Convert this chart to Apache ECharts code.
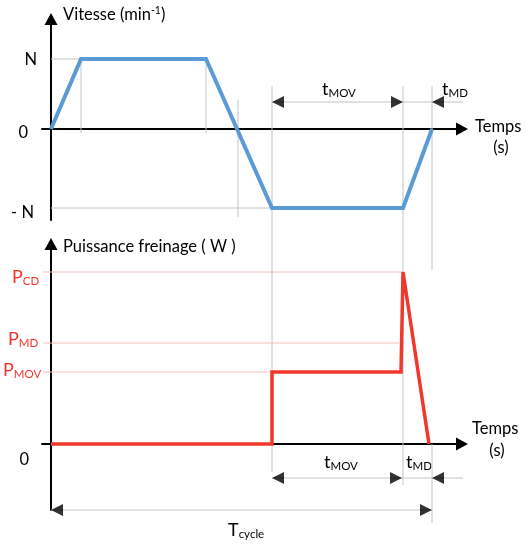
<!DOCTYPE html>
<html><head><meta charset="utf-8">
<script src="https://cdn.jsdelivr.net/npm/echarts@6/dist/echarts.min.js"></script>
<style>html,body{margin:0;padding:0;background:#fff}#c{width:525px;height:545px}</style>
</head><body><div id="c"></div>
<script>
// ---- data (time in schematic units, levels in schematic units) ----
const speedT = [0, 30, 155, 186, 221, 352, 381];
const speedV = [0, 70, 70, 0, -79, -79, 0];
const powerT = [0, 221, 221, 350, 352, 378];
const powerV = [0, 0, 72, 72, 172, 0];
// guide segments, top chart (grid 0)
const topGuides = [
  [[0, 70], [30, 70]], [[0, -79], [221, -79]],
  [[30, 70], [30, -4]], [[155, 70], [155, -4]], [[187, 29], [187, -88]],
  [[221, 43], [221, -343]], [[352, 43], [352, -356]], [[381, 43], [381, -141]],
  [[221, 27], [419, 27]]
];
// guide segments, bottom chart (grid 1)
const botGuides = [
  [[381, 0], [381, -79]], [[221, -34], [419, -34]], [[0, -66], [381, -66]]
];
const powerGuides = [
  [[-8, 172], [352, 172]], [[-8, 101], [348, 101]], [[-8, 72], [221, 72]]
];
// arrow heads: [x, y, direction]
const topArrows = [[221, 27, 'L'], [352, 27, 'R'], [381, 27, 'L']];
const botArrows = [[221, -34, 'L'], [351, -34, 'R'], [381, -34, 'L'], [0, -66, 'L'], [381, -66, 'R']];
// tick labels
const speedTickLabels = ['N', '0', '- N'];
const powerTickLabels = [['P', 'CD'], ['P', 'MD'], ['P', 'MOV']];

const F = 'Lato, "Noto Sans", sans-serif';
const BLUE = '#5b9bd5', RED = '#f0392b', GRAY = '#c4c4c4', PINK = '#f6beb8', TRED = '#f5332a';

const chart = echarts.init(document.getElementById('c'), null, {renderer: 'canvas'});

function xAx(i) {
  return {type: 'value', gridIndex: i, min: -9, max: 411,
    axisLine: {onZero: true, symbol: ['none', 'triangle'], symbolSize: [13, 12], lineStyle: {color: '#000', width: 2}},
    axisTick: {show: false}, axisLabel: {show: false}, splitLine: {show: false}};
}
function yAx(i, mn, mx) {
  return {type: 'value', gridIndex: i, min: mn, max: mx,
    axisLine: {show: true, onZero: true, symbol: ['none', 'triangle'], symbolSize: [13, 12], lineStyle: {color: '#000', width: 2}},
    axisTick: {show: false}, axisLabel: {show: false}, splitLine: {show: false}};
}
const series = [];
function seg(s, gi, color, w) {
  series.push({type: 'line', xAxisIndex: gi, yAxisIndex: gi, data: s, symbol: 'none', clip: false,
    silent: true, animation: false, z: 1, lineStyle: {color: color, width: w}});
}
topGuides.forEach(s => seg(s, 0, GRAY, 1));
botGuides.forEach(s => seg(s, 1, GRAY, 1));
powerGuides.forEach(s => seg(s, 1, PINK, 1));
series.push({type: 'line', xAxisIndex: 0, yAxisIndex: 0, data: speedT.map((t, i) => [t, speedV[i]]),
  symbol: 'none', animation: false, z: 5, lineStyle: {color: BLUE, width: 4, join: 'miter'}});
series.push({type: 'line', xAxisIndex: 1, yAxisIndex: 1, data: powerT.map((t, i) => [t, powerV[i]]),
  symbol: 'none', animation: false, z: 5, lineStyle: {color: RED, width: 3.5, join: 'miter'}});
const LP = 'path://M0,6L12,0L12,12Z', RP = 'path://M12,6L0,0L0,12Z';
function arrows(list, gi) {
  series.push({type: 'scatter', xAxisIndex: gi, yAxisIndex: gi, clip: false, animation: false, silent: true, z: 6,
    data: list.map(a => ({value: [a[0], a[1]], symbol: a[2] === 'L' ? LP : RP, symbolOffset: a[2] === 'L' ? [6, 0] : [-6, 0]})),
    symbolSize: [12, 12], itemStyle: {color: '#000'}});
}
arrows(topArrows, 0);
arrows(botArrows, 1);

const richB = {
  m: {fontSize: 16.5, fontFamily: F, fill: '#000', lineHeight: 20},
  t: {fontSize: 18, fontFamily: F, fill: '#000', lineHeight: 20},
  sub: {fontSize: 11.5, fontFamily: F, fill: '#000', lineHeight: 12, verticalAlign: 'bottom'},
  sup: {fontSize: 10.5, fontFamily: F, fill: '#000', lineHeight: 12, verticalAlign: 'top'},
  p: {fontSize: 18, fontFamily: F, fill: TRED, lineHeight: 20},
  ps: {fontSize: 11.5, fontFamily: F, fill: TRED, lineHeight: 12, verticalAlign: 'bottom'}
};
function T(x, y, text, align) {
  return {type: 'text', x: x, y: y, silent: true,
    style: {text: text, align: align || 'left', verticalAlign: 'middle', fontFamily: F, fontSize: 16, fill: '#000', rich: richB}};
}
const graphic = [
  T(63, 15, '{m|Vitesse (min}{sup|-1}{m|)}'),
  T(37, 60, '{m|' + speedTickLabels[0] + '}', 'right'),
  T(28, 133, '{m|' + speedTickLabels[1] + '}', 'right'),
  T(34, 213, '{m|' + speedTickLabels[2] + '}', 'right'),
  T(322, 89, '{t|t}{sub|MOV}'),
  T(442, 89, '{t|t}{sub|MD}'),
  T(475, 127, '{m|Temps}'),
  T(501, 148, '{m|(s)}', 'center'),
  T(63, 247, '{m|Puissance freinage ( W )}'),
  T(12, 277, '{p|' + powerTickLabels[0][0] + '}{ps|' + powerTickLabels[0][1] + '}'),
  T(8, 339, '{p|' + powerTickLabels[1][0] + '}{ps|' + powerTickLabels[1][1] + '}'),
  T(3, 370, '{p|' + powerTickLabels[2][0] + '}{ps|' + powerTickLabels[2][1] + '}'),
  T(29, 460, '{m|0}', 'right'),
  T(472, 429, '{m|Temps}'),
  T(497, 451, '{m|(s)}', 'center'),
  T(324, 462, '{t|t}{sub|MOV}'),
  T(406, 462, '{t|t}{sub|MD}'),
  T(228, 530, '{t|T}{sub|cycle}')
];

chart.setOption({
  animation: false,
  grid: [
    {left: 42, right: 63, top: 19, bottom: 325},
    {left: 42, right: 63, top: 244, bottom: 35}
  ],
  xAxis: [xAx(0), xAx(1)],
  yAxis: [yAx(0, -91, 110), yAx(1, -66, 200)],
  series: series,
  graphic: graphic
});
</script></body></html>
